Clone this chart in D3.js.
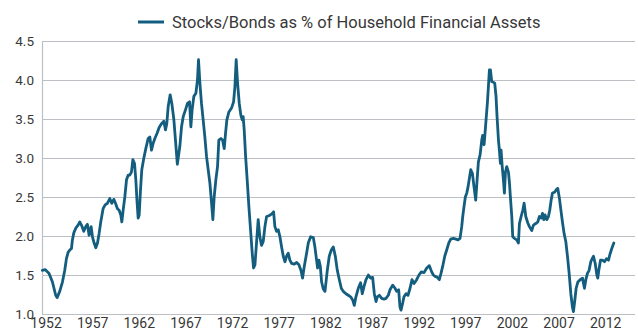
<!DOCTYPE html>
<html>
<head>
<meta charset="utf-8">
<script src="https://cdn.jsdelivr.net/npm/d3@7"></script>
<style>
  html, body { margin: 0; padding: 0; background: #fff; }
  svg { display: block; font-family: Roboto, "Noto Sans", sans-serif; }
</style>
</head>
<body>
<svg id="chart" width="638" height="334"></svg>
<script>
// Stocks/Bonds as % of household financial assets, by (decimal) year
const years = [
  1951.66, 1951.95, 1952.38, 1952.74, 1953.09, 1953.24, 1953.52, 1953.81, 1954.06, 1954.24,
  1954.42, 1954.60, 1954.78, 1954.88, 1955.03, 1955.24, 1955.49, 1955.67, 1955.85, 1956.10,
  1956.31, 1956.49, 1956.67, 1956.89, 1957.03, 1957.21, 1957.39, 1957.57, 1957.74, 1957.92,
  1958.17, 1958.39, 1958.64, 1958.89, 1959.10, 1959.32, 1959.53, 1959.71, 1959.89, 1960.07,
  1960.18, 1960.32, 1960.50, 1960.68, 1960.86, 1961.03, 1961.21, 1961.36, 1961.54, 1961.68,
  1961.82, 1961.93, 1962.04, 1962.18, 1962.32, 1962.54, 1962.75, 1963.00, 1963.18, 1963.36,
  1963.54, 1963.72, 1963.97, 1964.18, 1964.43, 1964.68, 1964.86, 1965.00, 1965.15, 1965.36,
  1965.54, 1965.76, 1965.93, 1966.13, 1966.40, 1966.58, 1966.76, 1967.01, 1967.22, 1967.44,
  1967.58, 1967.72, 1967.90, 1968.12, 1968.29, 1968.40, 1968.55, 1968.72, 1968.90, 1969.08,
  1969.26, 1969.44, 1969.62, 1969.80, 1969.94, 1970.08, 1970.26, 1970.44, 1970.58, 1970.80,
  1970.98, 1971.16, 1971.30, 1971.44, 1971.66, 1971.94, 1972.16, 1972.30, 1972.44, 1972.59,
  1972.77, 1972.94, 1973.09, 1973.19, 1973.30, 1973.45, 1973.62, 1973.80, 1973.98, 1974.16,
  1974.30, 1974.45, 1974.59, 1974.80, 1974.98, 1975.16, 1975.34, 1975.52, 1975.70, 1975.95,
  1976.23, 1976.45, 1976.59, 1976.77, 1976.95, 1977.13, 1977.31, 1977.49, 1977.67, 1977.84,
  1978.02, 1978.20, 1978.38, 1978.67, 1978.92, 1979.17, 1979.38, 1979.56, 1979.74, 1979.99,
  1980.17, 1980.42, 1980.71, 1980.88, 1981.06, 1981.17, 1981.31, 1981.46, 1981.60, 1981.78,
  1981.96, 1982.21, 1982.42, 1982.64, 1982.85, 1983.07, 1983.28, 1983.50, 1983.71, 1983.92,
  1984.21, 1984.46, 1984.71, 1984.93, 1985.10, 1985.28, 1985.53, 1985.78, 1985.96, 1986.14,
  1986.36, 1986.61, 1986.86, 1987.07, 1987.25, 1987.43, 1987.57, 1987.79, 1988.04, 1988.29,
  1988.50, 1988.75, 1988.93, 1989.22, 1989.47, 1989.65, 1989.86, 1990.00, 1990.11, 1990.29,
  1990.43, 1990.65, 1990.86, 1991.08, 1991.29, 1991.51, 1991.79, 1992.04, 1992.29, 1992.58,
  1992.87, 1993.15, 1993.40, 1993.58, 1993.80, 1994.01, 1994.22, 1994.40, 1994.58, 1994.80,
  1995.01, 1995.23, 1995.44, 1995.73, 1996.01, 1996.23, 1996.44, 1996.62, 1996.73, 1996.87,
  1997.01, 1997.16, 1997.30, 1997.42, 1997.59, 1997.77, 1997.94, 1998.12, 1998.27, 1998.41,
  1998.59, 1998.77, 1998.87, 1999.02, 1999.12, 1999.23, 1999.37, 1999.48, 1999.59, 1999.70,
  1999.84, 2000.02, 2000.16, 2000.30, 2000.41, 2000.56, 2000.66, 2000.77, 2000.84, 2000.95,
  2001.09, 2001.20, 2001.31, 2001.45, 2001.63, 2001.74, 2001.84, 2001.99, 2002.09, 2002.27,
  2002.52, 2002.70, 2002.81, 2002.99, 2003.17, 2003.31, 2003.49, 2003.70, 2003.88, 2004.13,
  2004.31, 2004.56, 2004.78, 2004.95, 2005.13, 2005.28, 2005.42, 2005.56, 2005.74, 2005.92,
  2006.06, 2006.21, 2006.35, 2006.56, 2006.81, 2006.92, 2007.10, 2007.28, 2007.42, 2007.60,
  2007.78, 2007.96, 2008.14, 2008.32, 2008.49, 2008.60, 2008.75, 2008.89, 2009.07, 2009.32,
  2009.57, 2009.78, 2009.93, 2010.10, 2010.28, 2010.46, 2010.61, 2010.75, 2010.93, 2011.11,
  2011.21, 2011.32, 2011.50, 2011.71, 2011.93, 2012.14, 2012.36, 2012.50, 2012.71, 2012.93
];

const ratio = [
  1.56, 1.57, 1.52, 1.41, 1.24, 1.21, 1.29, 1.41, 1.56, 1.71,
  1.79, 1.82, 1.84, 1.95, 2.04, 2.10, 2.14, 2.18, 2.14, 2.06,
  2.12, 2.15, 2.01, 2.12, 1.99, 1.91, 1.85, 1.91, 2.03, 2.18,
  2.35, 2.40, 2.42, 2.48, 2.42, 2.47, 2.41, 2.35, 2.33, 2.27,
  2.18, 2.33, 2.50, 2.72, 2.78, 2.78, 2.82, 2.98, 2.93, 2.72,
  2.42, 2.23, 2.27, 2.59, 2.85, 3.00, 3.12, 3.25, 3.27, 3.10,
  3.19, 3.25, 3.32, 3.39, 3.44, 3.47, 3.36, 3.44, 3.66, 3.81,
  3.70, 3.49, 3.23, 2.92, 3.15, 3.40, 3.53, 3.62, 3.70, 3.72,
  3.40, 3.62, 3.79, 3.83, 4.00, 4.26, 3.96, 3.70, 3.49, 3.27,
  3.02, 2.85, 2.68, 2.42, 2.21, 2.50, 2.72, 2.89, 3.23, 3.25,
  3.23, 3.12, 3.32, 3.49, 3.59, 3.64, 3.72, 3.91, 4.26, 3.96,
  3.70, 3.55, 3.49, 3.53, 3.36, 3.02, 2.72, 2.38, 2.08, 1.78,
  1.59, 1.63, 1.86, 2.21, 1.99, 1.88, 1.93, 2.12, 2.25, 2.26,
  2.28, 2.31, 2.12, 2.06, 2.08, 1.99, 1.86, 1.74, 1.67, 1.74,
  1.78, 1.69, 1.65, 1.64, 1.66, 1.63, 1.56, 1.46, 1.61, 1.78,
  1.91, 1.99, 1.98, 1.86, 1.69, 1.59, 1.69, 1.61, 1.41, 1.32,
  1.29, 1.56, 1.74, 1.82, 1.86, 1.74, 1.56, 1.44, 1.33, 1.29,
  1.26, 1.24, 1.22, 1.18, 1.11, 1.22, 1.33, 1.40, 1.26, 1.35,
  1.44, 1.50, 1.46, 1.47, 1.26, 1.16, 1.22, 1.24, 1.20, 1.19,
  1.20, 1.24, 1.31, 1.37, 1.33, 1.29, 1.31, 1.09, 1.05, 1.14,
  1.22, 1.26, 1.24, 1.33, 1.44, 1.39, 1.44, 1.50, 1.54, 1.53,
  1.59, 1.62, 1.54, 1.50, 1.48, 1.47, 1.44, 1.52, 1.61, 1.74,
  1.82, 1.91, 1.96, 1.97, 1.96, 1.95, 1.97, 2.12, 2.25, 2.38,
  2.50, 2.55, 2.63, 2.72, 2.85, 2.80, 2.63, 2.46, 2.72, 2.95,
  3.04, 3.23, 3.29, 3.17, 3.32, 3.49, 3.70, 3.91, 4.13, 4.13,
  3.98, 3.97, 3.96, 3.79, 3.53, 3.23, 3.10, 2.93, 3.10, 2.91,
  2.72, 2.55, 2.82, 2.89, 2.82, 2.68, 2.50, 2.25, 1.99, 1.97,
  1.95, 1.91, 2.16, 2.25, 2.33, 2.42, 2.25, 2.17, 2.12, 2.07,
  2.14, 2.16, 2.18, 2.25, 2.23, 2.29, 2.21, 2.27, 2.21, 2.25,
  2.33, 2.46, 2.55, 2.56, 2.60, 2.61, 2.48, 2.31, 2.18, 2.03,
  1.93, 1.74, 1.52, 1.26, 1.09, 1.03, 1.18, 1.33, 1.41, 1.44,
  1.46, 1.33, 1.44, 1.52, 1.56, 1.67, 1.71, 1.74, 1.65, 1.50,
  1.46, 1.56, 1.69, 1.69, 1.67, 1.71, 1.69, 1.76, 1.84, 1.91
];

const yTicks = [1.0, 1.5, 2.0, 2.5, 3.0, 3.5, 4.0, 4.5];
const xTicks = [1952, 1957, 1962, 1967, 1972, 1977, 1982, 1987, 1992, 1997, 2002, 2007, 2012];
const seriesName = "Stocks/Bonds as % of Household Financial Assets";

const lineColor = "#135d7f";
const gridColor = "#bcc0c4";
const textColor = "#383838";

const svg = d3.select("#chart");
const plot = { left: 42, right: 635, top: 41, bottom: 314 };

const x = d3.scaleLinear().domain([1951.62, 2015.2]).range([plot.left, plot.right]);
const y = d3.scaleLinear().domain([1.0, 4.5]).range([plot.bottom, plot.top]);

// horizontal gridlines + y labels
const yAxis = d3.axisLeft(y)
  .tickValues(yTicks)
  .tickFormat(d3.format(".1f"))
  .tickSize(-(plot.right - plot.left))
  .tickPadding(8);

const gy = svg.append("g")
  .attr("transform", `translate(${plot.left},0)`)
  .call(yAxis);
gy.select(".domain").attr("stroke", gridColor).attr("stroke-width", 1.2);
gy.selectAll(".tick line").attr("stroke", gridColor).attr("stroke-width", 1.2);
gy.selectAll(".tick text")
  .attr("fill", textColor)
  .style("font-size", "13.5px")
  .style("font-family", "Roboto, sans-serif");

// x labels (no tick marks)
const xAxis = d3.axisBottom(x)
  .tickValues(xTicks)
  .tickFormat(d3.format("d"))
  .tickSize(0)
  .tickPadding(4);

const gx = svg.append("g")
  .attr("transform", `translate(0,${plot.bottom})`)
  .call(xAxis);
gx.select(".domain").remove();
gx.selectAll(".tick text")
  .attr("fill", textColor)
  .style("font-size", "14px")
  .style("font-family", "Roboto, sans-serif");

// series line
const data = years.map((yr, i) => ({ yr, v: ratio[i] }));
const line = d3.line().x(d => x(d.yr)).y(d => y(d.v));

svg.append("path")
  .datum(data)
  .attr("fill", "none")
  .attr("stroke", lineColor)
  .attr("stroke-width", 2.8)
  .attr("stroke-linejoin", "round")
  .attr("stroke-linecap", "round")
  .attr("d", line);

// legend / title
const legend = svg.append("g").attr("transform", "translate(138,22)");
legend.append("line")
  .attr("x1", 0).attr("x2", 26)
  .attr("y1", 0).attr("y2", 0)
  .attr("stroke", lineColor)
  .attr("stroke-width", 3);
legend.append("text")
  .attr("x", 34)
  .attr("y", 0)
  .attr("dy", "0.35em")
  .attr("fill", textColor)
  .style("font-size", "16.5px")
  .text(seriesName);
</script>
</body>
</html>
